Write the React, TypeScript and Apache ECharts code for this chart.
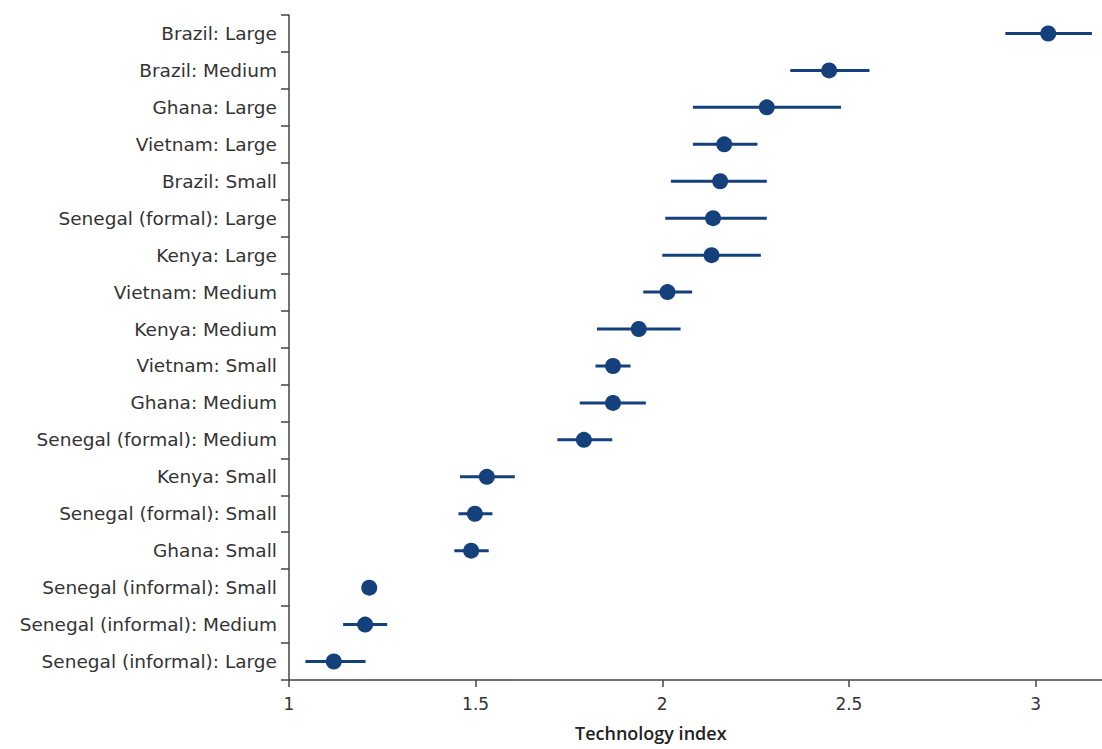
import React, { useEffect, useRef } from "react";
import * as echarts from "echarts";

const categories = [
  "Brazil: Large",
  "Brazil: Medium",
  "Ghana: Large",
  "Vietnam: Large",
  "Brazil: Small",
  "Senegal (formal): Large",
  "Kenya: Large",
  "Vietnam: Medium",
  "Kenya: Medium",
  "Vietnam: Small",
  "Ghana: Medium",
  "Senegal (formal): Medium",
  "Kenya: Small",
  "Senegal (formal): Small",
  "Ghana: Small",
  "Senegal (informal): Small",
  "Senegal (informal): Medium",
  "Senegal (informal): Large",
];
const estimates = [3.034, 2.447, 2.28, 2.166, 2.155, 2.136, 2.132, 2.014, 1.937, 1.868, 1.868, 1.79, 1.53, 1.498, 1.488, 1.215, 1.204, 1.12];
const lower = [2.919, 2.343, 2.082, 2.082, 2.023, 2.008, 2.0, 1.949, 1.825, 1.821, 1.779, 1.719, 1.458, 1.454, 1.443, 1.205, 1.145, 1.044];
const upper = [3.151, 2.555, 2.479, 2.255, 2.28, 2.28, 2.264, 2.08, 2.049, 1.915, 1.956, 1.866, 1.605, 1.545, 1.535, 1.225, 1.263, 1.205];
const xTicks = [1, 1.5, 2, 2.5, 3];
const xName = "Technology index";

const COLOR = "#14407c";
const TEXT = "#333333";
const FONT = "'DejaVu Sans', sans-serif";

export default function App() {
  const ref = useRef<HTMLDivElement>(null);
  useEffect(() => {
    if (!ref.current) return;
    const chart = echarts.init(ref.current, null, { renderer: "svg" });
    const barData = categories.map((c, i) => [lower[i], upper[i], i]);
    const dotData = categories.map((c, i) => [estimates[i], c]);
    chart.setOption({
      animation: false,
      textStyle: { fontFamily: FONT },
      grid: { left: 289, right: 0, top: 15, bottom: 69, containLabel: false },
      xAxis: {
        type: "value",
        min: 1,
        max: 3.178,
        interval: 0.5,
        splitLine: { show: false },
        axisLine: { show: true, lineStyle: { color: "#444", width: 1.5 } },
        axisTick: { show: true, length: 7, lineStyle: { color: "#444", width: 1.5 }, customValues: xTicks },
        axisLabel: {
          color: TEXT,
          fontSize: 17,
          fontFamily: FONT,
          margin: 15,
          customValues: xTicks,
          formatter: (v: number) => (xTicks.indexOf(v) >= 0 ? String(v) : ""),
        },
      },
      yAxis: {
        type: "category",
        data: categories,
        inverse: true,
        axisLine: { show: true, lineStyle: { color: "#444", width: 1.5 } },
        axisTick: { show: true, length: 8, lineStyle: { color: "#444", width: 1.5 } },
        axisLabel: { color: TEXT, fontSize: 18.5, fontFamily: FONT, margin: 12 },
        splitLine: { show: false },
      },
      graphic: [
        {
          type: "text",
          left: 663 - 88,
          top: 724,
          style: {
            text: xName,
            x: 0,
            y: 0,
            fill: "#222",
            font: `600 18px 'Open Sans', sans-serif`,
          },
        },
      ],
      series: [
        {
          type: "custom",
          data: barData,
          renderItem: (params: any, api: any) => {
            const lo = api.coord([api.value(0), api.value(2)]);
            const hi = api.coord([api.value(1), api.value(2)]);
            return {
              type: "line",
              shape: { x1: lo[0], y1: lo[1], x2: hi[0], y2: hi[1] },
              style: { stroke: COLOR, lineWidth: 3 },
            };
          },
          encode: { x: [0, 1], y: 2 },
          z: 2,
        },
        {
          type: "scatter",
          data: dotData,
          symbol: "circle",
          symbolSize: 16,
          itemStyle: { color: COLOR, opacity: 1 },
          z: 3,
        },
      ],
    });
    return () => chart.dispose();
  }, []);
  return (
    <div
      ref={ref}
      style={{ position: "fixed", left: 0, top: 0, width: 1102, height: 749, background: "#fff" }}
    />
  );
}
